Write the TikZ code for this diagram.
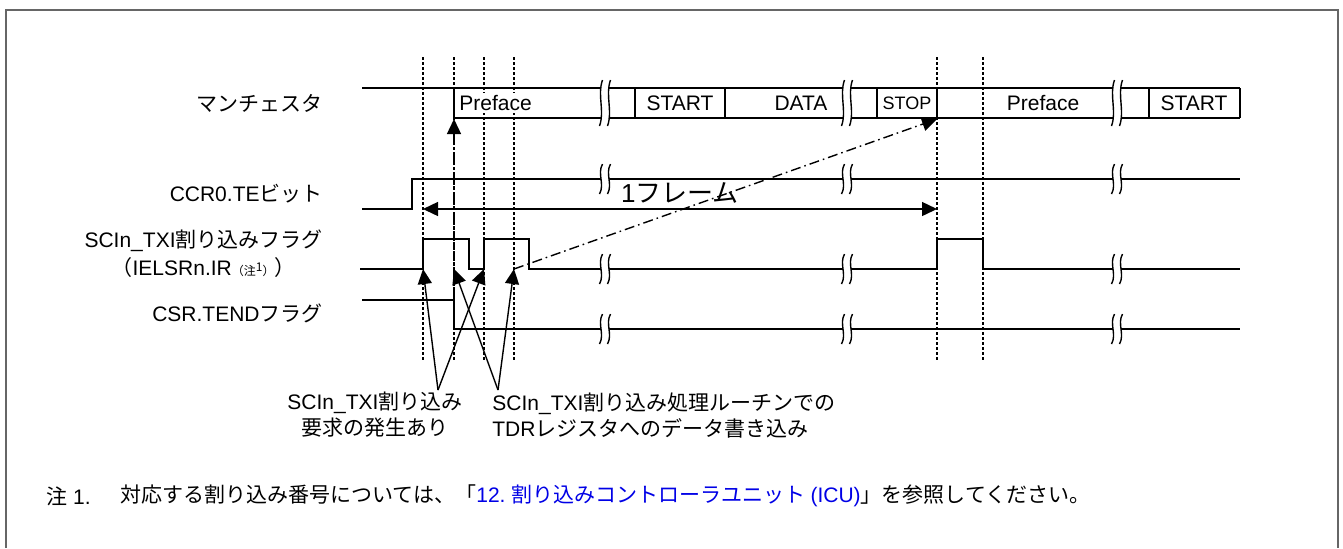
\documentclass[tikz,border=0pt]{standalone}
\usepackage{fontspec}
\setmainfont{Liberation Sans}
\newfontfamily\jp{Noto Sans CJK JP}
\usetikzlibrary{arrows.meta}
\definecolor{linkblue}{RGB}{0,0,230}

\begin{document}
\begin{tikzpicture}[
    x=0.5pt, y=-0.5pt,
    sig/.style={line width=1pt},
    guide/.style={line width=0.7pt, dash pattern=on 1.5pt off 1pt},
    arr/.style={-{Triangle[length=7.5pt, width=7pt]}, line width=0.7pt},
    dasharr/.style={arr, dash pattern=on 5pt off 2pt on 0.8pt off 2pt},
    span/.style={{Triangle[length=7.5pt, width=7pt]}-{Triangle[length=7.5pt, width=7pt]}, line width=0.7pt},
    lbl/.style={font=\fontsize{10.5}{14}\selectfont, anchor=east, align=center, inner sep=0pt},
    cell/.style={font=\fontsize{10.5}{13}\selectfont, inner sep=1pt},
    note/.style={font=\fontsize{10.5}{12}\selectfont, anchor=west, inner sep=0pt},
    cut/.pic={
      \fill[white] (-2.5,-#1) .. controls (-8,-#1/3) and (0,#1/3) .. (-5.5,#1)
        -- (2.5,#1) .. controls (8,#1/3) and (0,-#1/3) .. (5.5,-#1) -- cycle;
      \foreach \d in {-4,4}
        \draw[line width=0.7pt] (\d+1.5,-#1) .. controls (\d-4,-#1/3) and (\d+4,#1/3) .. (\d-1.5,#1);
    },
]
\useasboundingbox (0,0) rectangle (1343,548);
\draw[gray!80!black, line width=1pt] (6,548) -- (6,10) -- (1338,10) -- (1338,548);

% guide lines
\foreach \x in {423,454,484,514,937,983}
  \draw[guide] (\x,57) -- (\x,360);

% manchester frame
\draw[sig] (362,88) -- (1240,88);
\draw[sig] (454,118) -- (1240,118);
\foreach \x in {454,635,725,877,937,1149,1240}
  \draw[sig] (\x,88) -- (\x,118);
\node[cell, anchor=west, fill=white] (pre1) at (457,103) {Preface};
\node[cell] (start1) at (680,103) {START};
\node[cell] (data) at (801,103) {DATA};
\node[cell, font=\fontsize{9}{11}\selectfont] (stop) at (907,103) {STOP};
\node[cell] (pre2) at (1043,103) {Preface};
\node[cell] (start2) at (1194,103) {START};

% signals
\draw[sig] (362,209) -- (412,209) -- (412,179) -- (1240,179);
\draw[sig] (360,269) -- (423,269) -- (423,239) -- (469,239) -- (469,269) -- (484,269)
  -- (484,239) -- (529,239) -- (529,269) -- (937,269) -- (937,239) -- (983,239)
  -- (983,269) -- (1240,269);
\draw[sig] (362,300) -- (454,300) -- (454,329) -- (1240,329);

% breaks
\foreach \x in {605,847,1117} {
  \pic at (\x,103) {cut=23};
  \pic at (\x,179) {cut=15};
  \pic at (\x,269) {cut=15};
  \pic at (\x,329) {cut=15};
}

% signal names
\node[lbl] (man) at (323,103) {\jp マンチェスタ};
\node[lbl] (te) at (323,194) {CCR0.TE{\jp ビット}};
\node[lbl] (ir) at (323,254) {SCIn\_TXI{\jp 割り込みフラグ}\\
  {\jp （}IELSRn.IR{\jp\fontsize{6}{7}\selectfont （注\raisebox{2pt}{1}）}{\jp ）}};
\node[lbl] (tendf) at (323,313) {CSR.TEND{\jp フラグ}};

% one frame
\coordinate (fl) at (423,209);
\coordinate (fr) at (937,209);
\draw[span] (fl) -- (fr);
\node[font=\fontsize{13}{15}\selectfont, inner sep=0pt] (frm) at (680,193) {1{\jp フレーム}};

% dash-dot arrows
\coordinate (fall) at (454,300);
\coordinate (preS) at (454,119);
\draw[dasharr] (fall) -- (preS);
\coordinate (w2) at (514,269);
\coordinate (stopE) at (937,119);
\draw[dasharr] (w2) -- (stopE);

% comments below
\node[font=\fontsize{10.5}{13}\selectfont, align=center, anchor=north, inner sep=0pt] (req) at (375,392)
  {SCIn\_TXI{\jp 割り込み}\\{\jp 要求の発生あり}};
\node[font=\fontsize{10.5}{13}\selectfont, align=left, anchor=north west, inner sep=0pt] (wr) at (492,392)
  {SCIn\_TXI{\jp 割り込み処理ルーチンでの}\\TDR{\jp レジスタへのデータ書き込み}};
\coordinate (qa) at (438,390);
\coordinate (qb) at (498,390);
\coordinate (r1) at (423,269);
\coordinate (r2) at (484,269);
\coordinate (w1) at (454,269);
\draw[arr] (qa) -- (r1);
\draw[arr] (qa) -- (r2);
\draw[arr] (qb) -- (w1);
\draw[arr] (qb) -- (w2);

% note
\node[note] (n1) at (46,496) {{\jp 注} 1.};
\node[note] (n2) at (120,496) {\jp 対応する割り込み番号については、「\textcolor{linkblue}{{\rmfamily 12.} 割り込みコントローラユニット {\rmfamily (ICU)}}」を参照してください。};

\end{tikzpicture}
\end{document}
